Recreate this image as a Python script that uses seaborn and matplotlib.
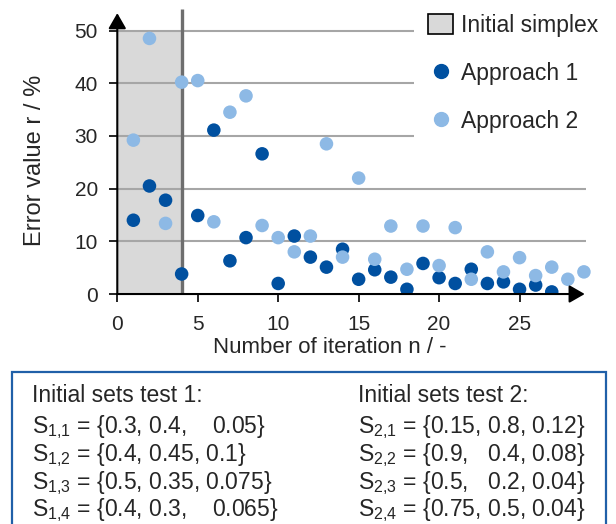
import matplotlib
matplotlib.use("Agg")
import matplotlib.pyplot as plt
from matplotlib.patches import Rectangle, Patch
from matplotlib.lines import Line2D
import seaborn as sns
import pandas as pd

# Error value r / % per iteration
iter_a1 = list(range(1, 28))
err_a1 = [14.0, 20.5, 17.8, 3.8, 14.9, 31.1, 6.3, 10.7, 26.6, 2.0,
          11.0, 7.0, 5.1, 8.5, 2.8, 4.6, 3.2, 0.9, 5.8, 3.1,
          2.0, 4.7, 2.0, 2.3, 0.9, 1.7, 0.4]
iter_a2 = list(range(1, 30))
err_a2 = [29.2, 48.5, 13.4, 40.2, 40.5, 13.7, 34.5, 37.6, 13.0, 10.7,
          8.0, 11.0, 28.5, 7.0, 22.0, 6.6, 12.9, 4.7, 12.9, 5.4,
          12.6, 2.8, 8.0, 4.2, 6.9, 3.5, 5.1, 2.8, 4.2]
series_names = ["Approach 1", "Approach 2"]
simplex_end = 4
y_ticks = [0, 10, 20, 30, 40, 50]
x_ticks = [0, 5, 10, 15, 20, 25]

sets_test1 = ["S$_{1{,}1}$ = {0.3, 0.4,    0.05}",
              "S$_{1{,}2}$ = {0.4, 0.45, 0.1}",
              "S$_{1{,}3}$ = {0.5, 0.35, 0.075}",
              "S$_{1{,}4}$ = {0.4, 0.3,    0.065}"]
sets_test2 = ["S$_{2{,}1}$ = {0.15, 0.8, 0.12}",
              "S$_{2{,}2}$ = {0.9,   0.4, 0.08}",
              "S$_{2{,}3}$ = {0.5,   0.2, 0.04}",
              "S$_{2{,}4}$ = {0.75, 0.5, 0.04}"]

df = pd.DataFrame({
    "n": iter_a1 + iter_a2,
    "r": err_a1 + err_a2,
    "series": [series_names[0]] * len(iter_a1) + [series_names[1]] * len(iter_a2),
})

sns.set_style("white")
plt.rcParams["font.family"] = ["Liberation Sans", "DejaVu Sans"]
plt.rcParams["mathtext.default"] = "regular"

colors = {"Approach 1": "#0050A0", "Approach 2": "#8DB9E5"}

fig = plt.figure(figsize=(6.16, 5.24), dpi=100)
ax = fig.add_axes([0.1904, 0.4389, 0.7732, 0.5431])

ax.axvspan(0, simplex_end, ymin=0, ymax=50 / 54, color="#D9D9D9", lw=0, zorder=0.5)
ax.hlines(y_ticks[1:], 0, 29.1, color="#A6A6A6", lw=1.5, zorder=1)
ax.vlines(simplex_end, 0, 54, color="#6E6E6E", lw=2.4, zorder=2)

sns.scatterplot(data=df, x="n", y="r", hue="series", palette=colors,
                s=95, linewidth=0, legend=False, ax=ax, zorder=3)

ax.set_xlim(0, 29.6)
ax.set_ylim(0, 54)
ax.set_xticks(x_ticks)
ax.set_yticks(y_ticks)
for s in ax.spines.values():
    s.set_visible(False)
ax.tick_params(axis="both", direction="out", length=6, width=1.2, color="k",
               labelsize=15, pad=8, bottom=True, left=True)
ax.tick_params(axis="x", pad=9)

# axes with arrow heads
arrow = dict(arrowstyle="-|>,head_length=0.47,head_width=0.27", color="k",
             lw=1.5, mutation_scale=20, shrinkA=0, shrinkB=0)
ax.annotate("", xy=(29.05, 0), xytext=(0, 0), arrowprops=arrow, annotation_clip=False, zorder=4)
ax.annotate("", xy=(0, 53.3), xytext=(0, 0), arrowprops=arrow, annotation_clip=False, zorder=4)

ax.set_xlabel("Number of iteration n / -", fontsize=16)
ax.set_ylabel("Error value r / %", fontsize=17)
ax.xaxis.set_label_coords(0.447, -0.152)
ax.yaxis.set_label_coords(-0.15, 0.471)

handles = [
    Patch(facecolor="#D9D9D9", edgecolor="k", lw=1.2, label="Initial simplex"),
    Line2D([], [], ls="", marker="o", ms=10, color=colors["Approach 1"], label="Approach 1"),
    Line2D([], [], ls="", marker="o", ms=10, color=colors["Approach 2"], label="Approach 2"),
]
leg = fig.legend(handles=handles, loc="upper left", bbox_to_anchor=(0.6726, 1.0),
                 fontsize=16.5, frameon=True, facecolor="white", edgecolor="none",
                 framealpha=1, fancybox=False, handlelength=1.1, handleheight=0.95,
                 handletextpad=0.35, labelspacing=1.1, borderpad=0.6, borderaxespad=0)
leg.set_zorder(10)

# text box with the initial sets
fig.patches.append(Rectangle((12 / 616, -0.02), 594 / 616, 152 / 524 + 0.02,
                             transform=fig.transFigure, fill=False,
                             edgecolor="#2060A8", lw=1.6))
baselines = [402, 433, 461, 489, 516]
fig.text(32 / 616, 1 - baselines[0] / 524, "Initial sets test 1:", fontsize=16.5, va="baseline")
fig.text(358 / 616, 1 - baselines[0] / 524, "Initial sets test 2:", fontsize=16.5, va="baseline")
for i in range(4):
    fig.text(32 / 616, 1 - baselines[i + 1] / 524, sets_test1[i], fontsize=16.5, va="baseline")
    fig.text(358 / 616, 1 - baselines[i + 1] / 524, sets_test2[i], fontsize=16.5, va="baseline")

fig.savefig("out.png", dpi=100)
